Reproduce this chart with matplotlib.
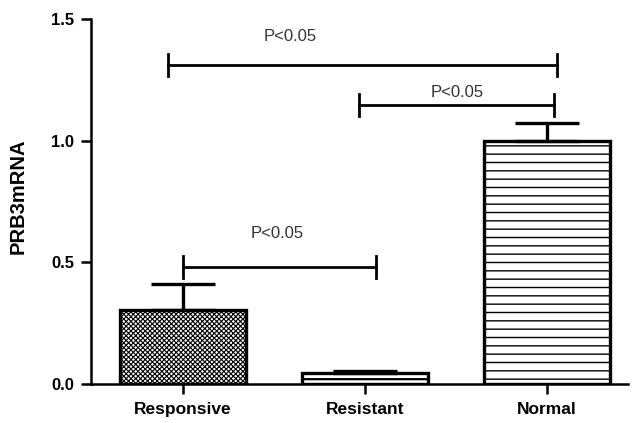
import matplotlib
matplotlib.use("Agg")
import matplotlib.pyplot as plt

plt.rcParams['font.family'] = ['Liberation Sans', 'DejaVu Sans']
plt.rcParams['hatch.linewidth'] = 1.0

categories = ["Responsive", "Resistant", "Normal"]
values = [0.305, 0.045, 1.0]
errors = [0.105, 0.010, 0.073]
hatches = ["xxxxxxx", "--", "--"]
hatch_lw = [0.8, 1.6, 1.0]
yticks = [0.0, 0.5, 1.0, 1.5]

# significance comparisons
sig_x1 = [-0.08, 0.965, 0.0]
sig_x2 = [2.055, 2.035, 1.06]
sig_y = [1.31, 1.147, 0.481]
sig_tx = [0.59, 1.505, 0.52]
sig_ty = [1.43, 1.20, 0.617]
sig_label = ["P<0.05", "P<0.05", "P<0.05"]

fig = plt.figure(figsize=(6.41, 4.23), dpi=100)
ax = fig.add_axes([0.142, 0.092, 0.838, 0.863])

x = list(range(len(categories)))
bars = ax.bar(x, values, width=0.69, facecolor="white", edgecolor="black",
              linewidth=2.4, zorder=2)
for b, h, hl in zip(bars, hatches, hatch_lw):
    b.set_hatch(h)
    try:
        b.set_hatch_linewidth(hl)
    except AttributeError:
        pass

ax.errorbar(x, values, yerr=[[0] * len(errors), errors], fmt="none",
            ecolor="black", elinewidth=2.4, capsize=23, capthick=2.4, zorder=3)

for x1, x2, y, tx, ty, lab in zip(sig_x1, sig_x2, sig_y, sig_tx, sig_ty, sig_label):
    ax.plot([x1, x2], [y, y], color="black", lw=2.0, zorder=4)
    cap = 0.045
    ax.plot([x1, x1], [y - cap, y + cap], color="black", lw=2.0, zorder=4)
    ax.plot([x2, x2], [y - cap, y + cap], color="black", lw=2.0, zorder=4)
    ax.text(tx, ty, lab, ha="center", va="center", fontsize=12, color="#333333")

ax.set_xlim(-0.505, 2.445)
ax.set_ylim(0, 1.5)
ax.set_yticks(yticks)
ax.set_yticklabels([f"{t:.1f}" for t in yticks], fontweight="bold", fontsize=12)
ax.set_xticks(x)
ax.set_xticklabels(categories, fontweight="bold", fontsize=12.5)
ax.set_ylabel("PRB3mRNA", fontweight="bold", fontsize=14.5, labelpad=9)
ax.yaxis.set_label_coords(-0.118, 0.515)

for s in ["top", "right"]:
    ax.spines[s].set_visible(False)
for s in ["left", "bottom"]:
    ax.spines[s].set_linewidth(1.8)
ax.tick_params(axis="both", width=1.8, length=7, direction="out")
ax.tick_params(axis="x", pad=6)
ax.tick_params(axis="y", pad=5)

fig.savefig("out.png", dpi=100)
